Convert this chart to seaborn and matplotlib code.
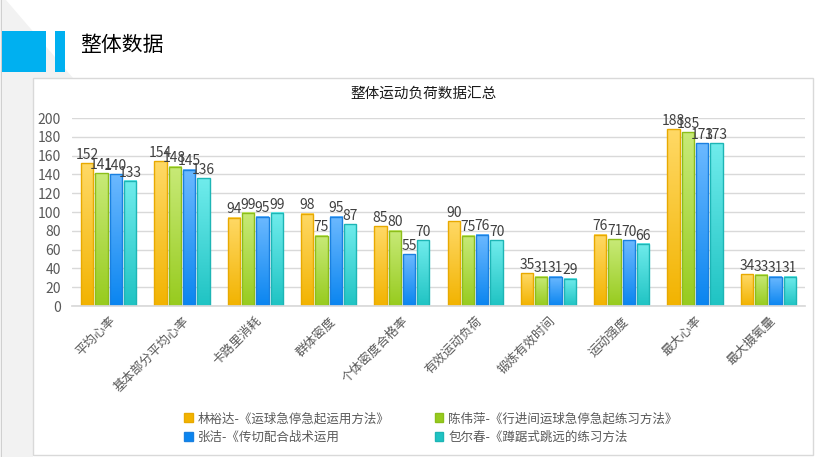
import numpy as np
import pandas as pd
import matplotlib
matplotlib.use('Agg')
import matplotlib.pyplot as plt
from matplotlib.colors import LinearSegmentedColormap
from matplotlib.patches import Rectangle, Polygon, Patch
import seaborn as sns

# ---- data ----
categories = ['平均心率', '基本部分平均心率', '卡路里消耗', '群体密度', '个体密度合格率',
              '有效运动负荷', '锻炼有效时间', '运动强度', '最大心率', '最大摄氧量']
series_names = ['林裕达-《运球急停急起运用方法》', '陈伟萍-《行进间运球急停急起练习方法》',
                '张洁-《传切配合战术运用', '包尔春-《蹲踞式跳远的练习方法']
lin = [152, 154, 94, 98, 85, 90, 35, 76, 188, 34]
chen = [141, 148, 99, 75, 80, 75, 31, 71, 185, 33]
zhang = [140, 145, 95, 95, 55, 76, 31, 70, 173, 31]
bao = [133, 136, 99, 87, 70, 70, 29, 66, 173, 31]
y_ticks = [0, 20, 40, 60, 80, 100, 120, 140, 160, 180, 200]

# (top colour, bottom colour, edge colour) for each series
styles = [('#FFD966', '#F2B300', '#E8A900'),
          ('#C8EA78', '#97CB1E', '#8CBE1A'),
          ('#6CB9FF', '#0A85F0', '#1A80E0'),
          ('#70ECEC', '#1FC3C3', '#1DB5B5')]

rows = []
for name, vals in zip(series_names, [lin, chen, zhang, bao]):
    for c, v in zip(categories, vals):
        rows.append({'指标': c, '值': v, '人员': name})
df = pd.DataFrame(rows)

sns.set_theme(style='white')
plt.rcParams['font.family'] = ['Noto Sans CJK SC', 'DejaVu Sans']

W, H = 820, 457
fig = plt.figure(figsize=(8.2, 4.57), dpi=100)
fig.patch.set_facecolor('white')


def fx(px):
    return px / W


def fy(py):
    return 1 - py / H


# page decoration
gray = '#F2F2F2'
fig.add_artist(Polygon([(fx(0), fy(0)), (fx(6), fy(0)), (fx(73), fy(78)), (fx(33), fy(78)),
                        (fx(33), fy(H)), (fx(0), fy(H))], closed=True,
                       transform=fig.transFigure, facecolor=gray, edgecolor='none', zorder=-3))
fig.add_artist(Rectangle((fx(1), 0), 1.5 / W, 1, transform=fig.transFigure,
                         facecolor='#D0D0D0', edgecolor='none', zorder=-2))
fig.add_artist(Rectangle((fx(33), fy(455)), 780 / W, 377 / H, transform=fig.transFigure,
                         facecolor='white', edgecolor='#D9D9D9', lw=1, zorder=-2))
fig.add_artist(Rectangle((fx(2), fy(72)), 44 / W, 41 / H, transform=fig.transFigure,
                         facecolor='#00B0F0', edgecolor='none', zorder=-1))
fig.add_artist(Rectangle((fx(55), fy(72)), 10 / W, 41 / H, transform=fig.transFigure,
                         facecolor='#00B0F0', edgecolor='none', zorder=-1))
fig.text(fx(80), fy(45), '整体数据', fontsize=15, color='black', va='center', ha='left')
fig.text(fx(424), fy(94), '整体运动负荷数据汇总', fontsize=10.5, color='#1A1A1A',
         va='center', ha='center')

ax = fig.add_axes([fx(72), fy(306), 733 / W, 188 / H])
ax.set_facecolor('white')

sns.barplot(data=df, x='指标', y='值', hue='人员', hue_order=series_names,
            palette=[s[1] for s in styles], width=0.78, gap=0.14, ax=ax,
            legend=False, saturation=1, edgecolor='none')

ax.set_ylim(0, 200)
ax.set_xlim(-0.5, len(categories) - 0.5)
ax.set_yticks(y_ticks)
grad = np.linspace(0, 1, 256).reshape(-1, 1)
for cont, (top, bottom, edge) in zip(ax.containers, styles):
    cmap = LinearSegmentedColormap.from_list('g', [bottom, top])
    for bar in cont:
        x0, w, h = bar.get_x(), bar.get_width(), bar.get_height()
        ax.imshow(grad, extent=[x0, x0 + w, 0, h], origin='lower', aspect='auto',
                  cmap=cmap, zorder=1.5, interpolation='bilinear')
        bar.set_facecolor('none')
        bar.set_edgecolor(edge)
        bar.set_linewidth(1)
        bar.set_zorder(2)
    ax.bar_label(cont, padding=1, fontsize=10, color='#404040')
ax.set_ylim(0, 200)
ax.set_xlim(-0.5, len(categories) - 0.5)

ax.yaxis.grid(True, color='#D9D9D9', lw=1)
ax.set_axisbelow(True)
for s in ['top', 'right', 'left']:
    ax.spines[s].set_visible(False)
ax.spines['bottom'].set_color('#D9D9D9')
ax.set_xlabel('')
ax.set_ylabel('')
ax.tick_params(axis='y', length=0, pad=8, labelsize=10, labelcolor='#595959')
ax.tick_params(axis='x', length=0, pad=6, labelsize=9, labelcolor='#595959')
plt.setp(ax.get_xticklabels(), rotation=45, ha='right', rotation_mode='anchor')

handles = [Patch(facecolor=s[1], edgecolor=s[2], label=n) for s, n in zip(styles, series_names)]
order = [0, 2, 1, 3]
fig.legend([handles[i] for i in order], [series_names[i] for i in order],
           ncol=2, loc='center', bbox_to_anchor=(fx(431), fy(428)), frameon=False,
           fontsize=9, labelcolor='#595959', handlelength=0.7, handleheight=0.7,
           handletextpad=0.4, columnspacing=3.6, labelspacing=0.45)

fig.savefig('out.png', dpi=100)
